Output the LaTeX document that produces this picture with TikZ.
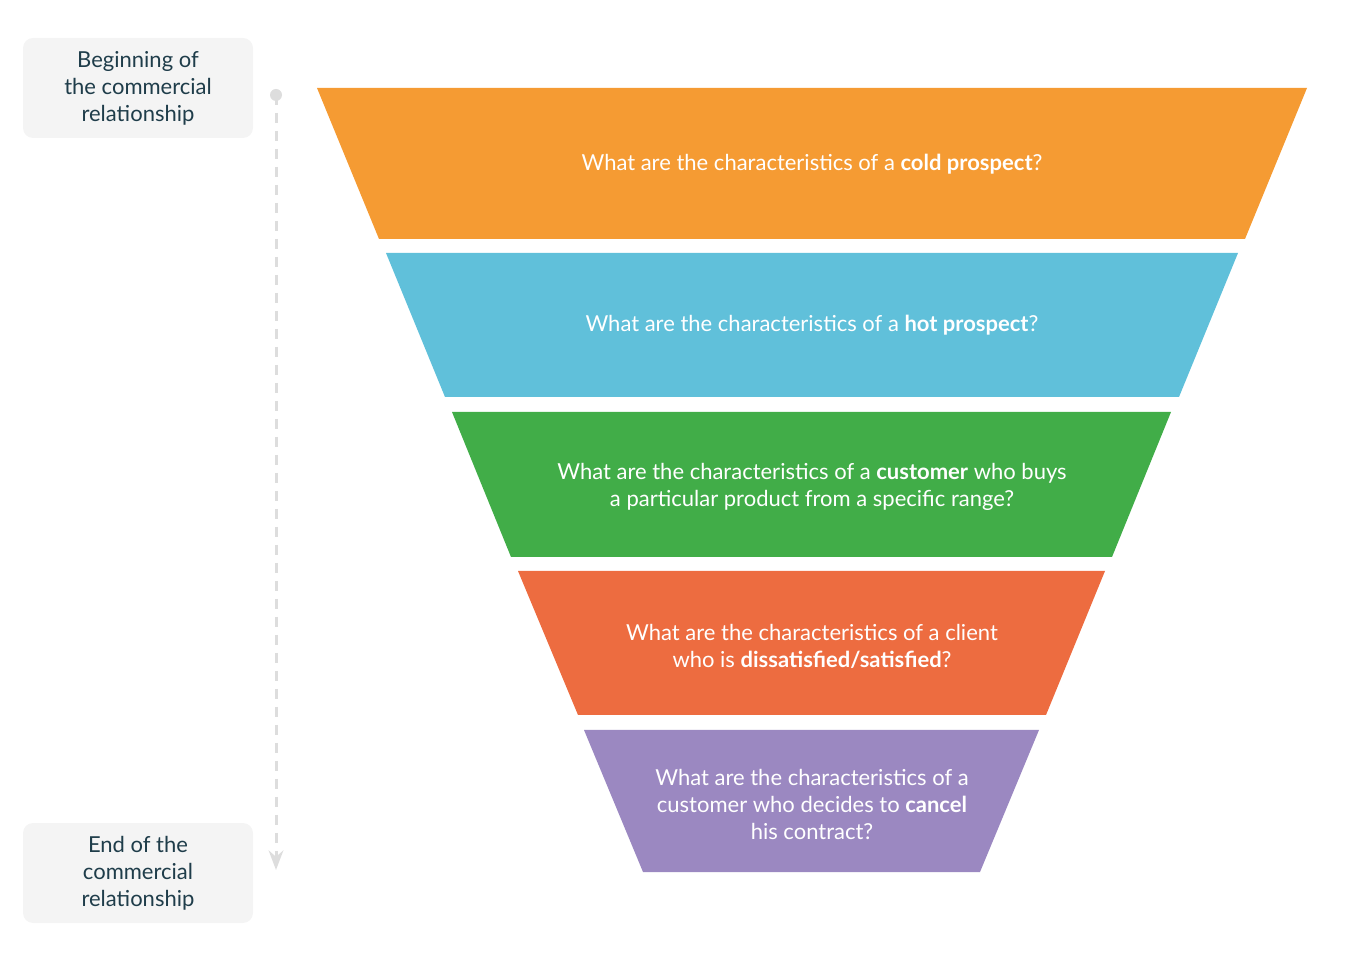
\documentclass[tikz,border=0pt]{standalone}
\usepackage{fontspec}
\setmainfont{Lato}
\usetikzlibrary{arrows.meta}
\definecolor{coldc}{HTML}{F59B33}
\definecolor{hotc}{HTML}{60C0DA}
\definecolor{custc}{HTML}{41AD48}
\definecolor{satc}{HTML}{ED6C40}
\definecolor{cancc}{HTML}{9B88C1}
\definecolor{boxc}{HTML}{F4F4F4}
\definecolor{inkc}{HTML}{1F3D4A}
\definecolor{linec}{HTML}{DDDDDD}
\tikzset{
  stage/.style={text=white, align=center, font=\fontsize{11}{13.5}\selectfont},
  side/.style={fill=boxc, rounded corners=5pt, text=inkc, align=center,
    minimum width=115pt, minimum height=50pt, font=\fontsize{11}{13.5}\selectfont},
}
\begin{document}
\begin{tikzpicture}[x=0.5pt, y=-0.5pt, >=Stealth]
    \useasboundingbox (0,0) rectangle (1360,961);
    % funnel
    \fill[coldc] (317,88) -- (1307,88) -- (1245,239) -- (379,239) -- cycle;
    \fill[hotc] (386,253) -- (1238,253) -- (1179,397) -- (445,397) -- cycle;
    \fill[custc] (452,412) -- (1171,412) -- (1112,557) -- (511,557) -- cycle;
    \fill[satc] (518,571) -- (1105,571) -- (1046,715) -- (578,715) -- cycle;
    \fill[cancc] (584,730) -- (1039,730) -- (980,872) -- (643,872) -- cycle;
    \node[stage] (cold) at (812,164) {What are the characteristics of a \textbf{cold prospect}?};
    \node[stage] (hot) at (812,325) {What are the characteristics of a \textbf{hot prospect}?};
    \node[stage] (cust) at (812,487) {What are the characteristics of a \textbf{customer} who buys\\a particular product from a specific range?};
    \node[stage] (sat) at (812,646) {What are the characteristics of a client\\who is \textbf{dissatisfied/satisfied}?};
    \node[stage] (canc) at (812,804) {What are the characteristics of a\\customer who decides to \textbf{cancel}\\his contract?};
    % timeline
    \node[side] (begin) at (138,88) {Beginning of\\the commercial\\relationship};
    \node[side] (end) at (138,873) {End of the\\commercial\\relationship};
    \fill[linec] (276,95) circle (6) coordinate (start);
    \coordinate (stop) at (276,870);
    \draw[linec, line width=1.5pt, dash pattern=on 5pt off 4pt, ->] (start) -- (stop);
\end{tikzpicture}
\end{document}
